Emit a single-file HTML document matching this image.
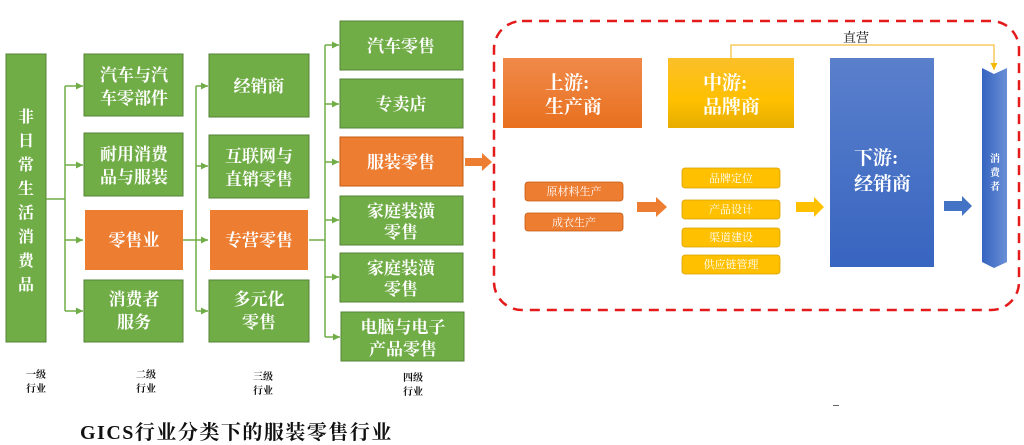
<!DOCTYPE html>
<html><head><meta charset="utf-8"><style>
html,body{margin:0;padding:0;background:#fff;width:1024px;height:445px;overflow:hidden}
svg text{font-family:"Liberation Serif","Noto Serif CJK SC",serif;font-weight:bold}
svg text.n{font-weight:normal}
</style></head><body>
<svg width="1024" height="445" viewBox="0 0 1024 445" xmlns="http://www.w3.org/2000/svg">
<defs>
<linearGradient id="og" x1="0" y1="0" x2="0" y2="1"><stop offset="0" stop-color="#f08a4a"/><stop offset="1" stop-color="#e8701f"/></linearGradient>
<linearGradient id="yg" x1="0" y1="0" x2="0" y2="1"><stop offset="0" stop-color="#fbbf2a"/><stop offset="0.6" stop-color="#ffc000"/><stop offset="1" stop-color="#e6ad00"/></linearGradient>
<linearGradient id="bg" x1="0" y1="0" x2="0" y2="1"><stop offset="0" stop-color="#5a80cc"/><stop offset="1" stop-color="#3865c0"/></linearGradient>
<linearGradient id="cg" x1="0" y1="0" x2="1" y2="0"><stop offset="0" stop-color="#3563c0"/><stop offset="1" stop-color="#6a8fd6"/></linearGradient>
<marker id="ga" markerWidth="8" markerHeight="8" refX="7" refY="4" orient="auto" markerUnits="userSpaceOnUse"><path d="M0,0.5 L7,4 L0,7.5z" fill="#70ad47"/></marker>
<marker id="ya" markerWidth="8" markerHeight="8" refX="7" refY="4" orient="auto" markerUnits="userSpaceOnUse"><path d="M0,0.5 L7,4 L0,7.5z" fill="#f5b800"/></marker>
</defs>
<g fill="#70ad47" stroke="#548235" stroke-width="1">
<rect x="6" y="54" width="40" height="288"/>
<rect x="84" y="54" width="99" height="62"/>
<rect x="84" y="133" width="99" height="63"/>
<rect x="84" y="280" width="99" height="62"/>
<rect x="209" y="54" width="100" height="63"/>
<rect x="209" y="135" width="100" height="63"/>
<rect x="209" y="280" width="100" height="62"/>
<rect x="340" y="21" width="123" height="49"/>
<rect x="340" y="79" width="123" height="49"/>
<rect x="340" y="196" width="123" height="49"/>
<rect x="340" y="253" width="123" height="49"/>
<rect x="341" y="312" width="123" height="49"/>
</g>
<g fill="#ed7d31">
<rect x="85" y="210" width="98" height="60"/>
<rect x="210" y="210" width="98" height="60"/>
<rect x="340" y="137" width="123" height="49" stroke="#c55a11" stroke-width="1"/>
<path d="M465,158 H482 V153 L492,162 L482,171 V166 H465z"/>
</g>
<g stroke="#70ad47" stroke-width="1.5" fill="none">
<path d="M46,199 H65 M65,86 V311"/>
<path d="M65,86 H83" marker-end="url(#ga)"/>
<path d="M65,165 H83" marker-end="url(#ga)"/>
<path d="M65,240 H83" marker-end="url(#ga)"/>
<path d="M65,311 H83" marker-end="url(#ga)"/>
<path d="M183,240 H196 M196,86 V311"/>
<path d="M196,86 H208" marker-end="url(#ga)"/>
<path d="M196,166 H208" marker-end="url(#ga)"/>
<path d="M196,240 H208" marker-end="url(#ga)"/>
<path d="M196,311 H208" marker-end="url(#ga)"/>
<path d="M309,240 H325 M325,45 V337"/>
<path d="M325,45 H339" marker-end="url(#ga)"/>
<path d="M325,104 H339" marker-end="url(#ga)"/>
<path d="M325,162 H339" marker-end="url(#ga)"/>
<path d="M325,220 H339" marker-end="url(#ga)"/>
<path d="M325,277 H339" marker-end="url(#ga)"/>
<path d="M325,337 H340" marker-end="url(#ga)"/>
</g>
<g fill="#fff" font-size="16" text-anchor="middle">
<text x="26" y="122">非</text><text x="26" y="146">日</text><text x="26" y="170">常</text><text x="26" y="194">生</text><text x="26" y="218">活</text><text x="26" y="242">消</text><text x="26" y="266">费</text><text x="26" y="290">品</text>
<text x="134" y="81" font-size="17">汽车与汽</text><text x="134" y="104" font-size="17">车零部件</text>
<text x="134" y="160" font-size="17">耐用消费</text><text x="134" y="183" font-size="17">品与服装</text>
<text x="134" y="246" font-size="17">零售业</text>
<text x="134" y="305" font-size="17">消费者</text><text x="134" y="328" font-size="17">服务</text>
<text x="259" y="92" font-size="17">经销商</text>
<text x="259" y="162" font-size="17">互联网与</text><text x="259" y="185" font-size="17">直销零售</text>
<text x="259" y="246" font-size="17">专营零售</text>
<text x="259" y="305" font-size="17">多元化</text><text x="259" y="328" font-size="17">零售</text>
<text x="401" y="52" font-size="17">汽车零售</text>
<text x="401" y="110" font-size="17">专卖店</text>
<text x="401" y="168" font-size="17">服装零售</text>
<text x="401" y="217" font-size="17">家庭装潢</text><text x="401" y="238" font-size="17">零售</text>
<text x="401" y="274" font-size="17">家庭装潢</text><text x="401" y="295" font-size="17">零售</text>
<text x="403" y="333" font-size="17">电脑与电子</text><text x="403" y="355" font-size="17">产品零售</text>
</g>
<g fill="#111" font-size="10" text-anchor="middle">
<text x="36" y="378">一级</text><text x="36" y="392">行业</text>
<text x="146" y="378">二级</text><text x="146" y="392">行业</text>
<text x="263" y="380">三级</text><text x="263" y="394">行业</text>
<text x="413" y="381">四级</text><text x="413" y="395">行业</text>
</g>
<text x="80" y="439" font-size="20" letter-spacing="1.5" fill="#111">GICS行业分类下的服装零售行业</text>
<rect x="833" y="405" width="6" height="1" fill="#666"/>
<rect x="494" y="21" width="525" height="289" rx="28" fill="none" stroke="#e41b1b" stroke-width="2.5" stroke-dasharray="10,7"/>
<rect x="503" y="58" width="139" height="70" fill="url(#og)"/>
<rect x="668" y="58" width="126" height="70" fill="url(#yg)"/>
<rect x="830" y="58" width="104" height="209" fill="url(#bg)"/>
<path d="M982,68 L994,74 L1007,68 V262 L994,268 L982,262z" fill="url(#cg)"/>
<path d="M731,58 V45 H994 V70" stroke="#f5c242" stroke-width="1.3" fill="none" marker-end="url(#ya)"/>
<text class="n" x="856" y="42" font-size="13" fill="#111" text-anchor="middle">直营</text>
<g fill="#fff" font-size="19">
<text x="545" y="89">上游:</text><text x="545" y="113">生产商</text>
<text x="703" y="89">中游:</text><text x="703" y="113">品牌商</text>
<text x="854" y="164">下游:</text><text x="854" y="190">经销商</text>
</g>
<g fill="#fff" font-size="10" text-anchor="middle"><text x="995" y="162">消</text><text x="995" y="176">费</text><text x="995" y="190">者</text></g>
<g fill="#ed7d31" stroke="#c55a11" stroke-width="0.8">
<rect x="525" y="182" width="98" height="19" rx="3"/>
<rect x="525" y="213" width="98" height="18" rx="3"/>
</g>
<path d="M637,202 H656 V197 L667,207 L656,217 V212 H637z" fill="#ed7d31"/>
<g fill="#ffc000" stroke="#d9a000" stroke-width="0.8">
<rect x="682" y="168" width="98" height="20" rx="3"/>
<rect x="682" y="200" width="98" height="19" rx="3"/>
<rect x="682" y="228" width="98" height="19" rx="3"/>
<rect x="682" y="255" width="98" height="19" rx="3"/>
</g>
<path d="M796,202 H814 V197 L824,207 L814,217 V212 H796z" fill="#ffc000"/>
<path d="M944,201 H962 V196 L972,206 L962,216 V211 H944z" fill="#4472c4"/>
<g fill="#fff" font-size="11" text-anchor="middle">
<text class="n" x="574" y="195">原材料生产</text><text class="n" x="574" y="226">成衣生产</text>
<text class="n" x="731" y="182">品牌定位</text><text class="n" x="731" y="213">产品设计</text>
<text class="n" x="731" y="241">渠道建设</text><text class="n" x="731" y="268">供应链管理</text>
</g>
</svg>
</body></html>
